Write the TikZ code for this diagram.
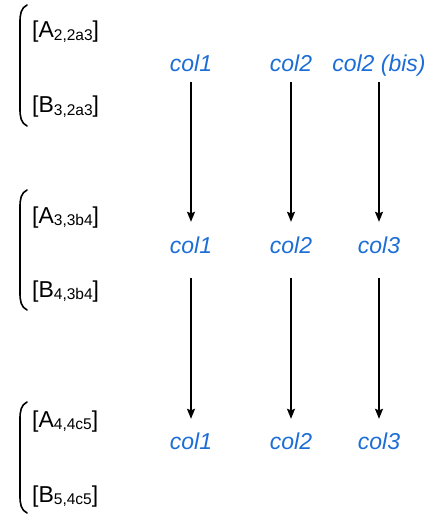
\documentclass[tikz,border=0pt]{standalone}
\usepackage{fontspec}
\setmainfont{Liberation Sans}
\usepackage{tikz}
\usetikzlibrary{arrows.meta}
\usepackage{xcolor}
\definecolor{colblue}{RGB}{28,110,214}

\newcommand{\idx}[1]{\raisebox{-2.5pt}{\fontsize{15.5}{16}\selectfont #1}}

\begin{document}
\begin{tikzpicture}[
    x=1pt, y=-1pt,
    font=\fontsize{23}{27}\selectfont,
    cell/.style={anchor=base west, inner sep=0pt},
    lbl/.style={anchor=base, text=colblue, font=\fontsize{23}{27}\selectfont\itshape, inner sep=0pt, text height=17pt, text depth=5pt},
    brk/.style={line width=1.6pt, line cap=round},
    ar/.style={-{Stealth[length=10pt, width=8pt, inset=1.5pt]}, line width=1.3pt}
]
\useasboundingbox (0,0) rectangle (428,516);

% pair of indices, grouped by brackets
\node[cell] (a1) at (32,38) {[A\idx{2,2a3}]};
\node[cell] (b1) at (32,113) {[B\idx{3,2a3}]};
\node[cell] (a2) at (32,223) {[A\idx{3,3b4}]};
\node[cell] (b2) at (32,297) {[B\idx{4,3b4}]};
\node[cell] (a3) at (32,427) {[A\idx{4,4c5}]};
\node[cell] (b3) at (32,502) {[B\idx{5,4c5}]};

\draw[brk] (27,5) .. controls (21,8) and (20,14) .. (20,22) -- (20,109) .. controls (20,117) and (21,123) .. (27,126);
\draw[brk] (27,190) .. controls (21,193) and (20,199) .. (20,207) -- (20,293) .. controls (20,301) and (21,307) .. (27,310);
\draw[brk] (27,402) .. controls (21,405) and (20,411) .. (20,419) -- (20,496) .. controls (20,504) and (21,510) .. (27,513);

% columns
\node[lbl] (c11) at (191,72) {col1};
\node[lbl] (c12) at (291,72) {col2};
\node[lbl] (c13) at (379,72) {col2 (bis)};

\node[lbl] (c21) at (191,253) {col1};
\node[lbl] (c22) at (291,253) {col2};
\node[lbl] (c23) at (379,253) {col3};

\node[lbl] (c31) at (191,449) {col1};
\node[lbl] (c32) at (291,449) {col2};
\node[lbl] (c33) at (379,449) {col3};

\draw[ar, shorten <=5pt, shorten >=14pt] (c11.south) -- (c21.north);
\draw[ar, shorten <=5pt, shorten >=14pt] (c12.south) -- (c22.north);
\draw[ar, shorten <=5pt, shorten >=14pt] (c13.south) -- (c23.north);
\draw[ar, shorten <=20pt, shorten >=13pt] (c21.south) -- (c31.north);
\draw[ar, shorten <=20pt, shorten >=13pt] (c22.south) -- (c32.north);
\draw[ar, shorten <=20pt, shorten >=13pt] (c23.south) -- (c33.north);
\end{tikzpicture}
\end{document}
